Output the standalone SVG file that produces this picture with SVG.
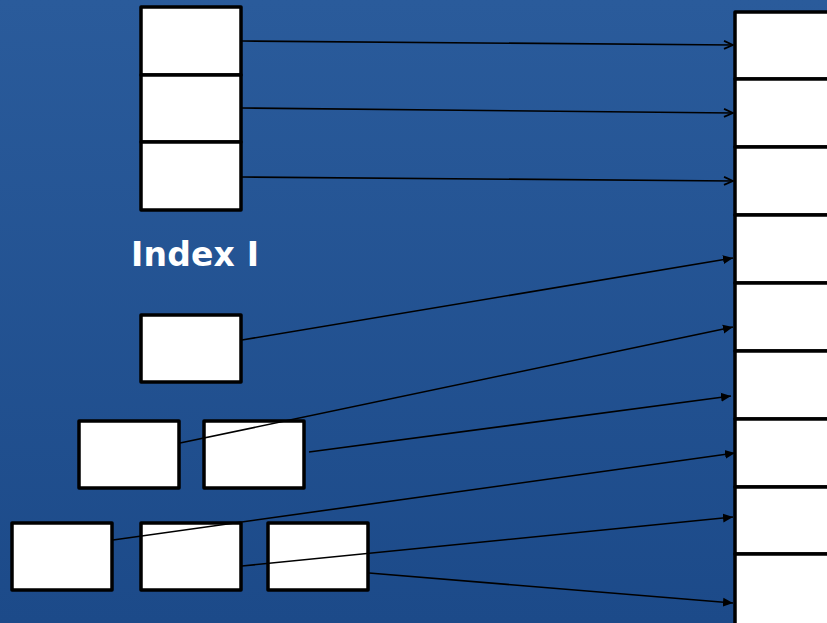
<svg xmlns="http://www.w3.org/2000/svg" width="827" height="623" viewBox="0 0 827 623">
<defs>
<linearGradient id="bg" x1="0" y1="0" x2="0" y2="1">
<stop offset="0" stop-color="#2a5b9b"/>
<stop offset="1" stop-color="#1c4a89"/>
</linearGradient>
<marker id="open" markerWidth="12" markerHeight="10" refX="10" refY="5" orient="auto" markerUnits="userSpaceOnUse">
<path d="M1,1 L10,5 L1,9" fill="none" stroke="#000" stroke-width="1.8"/>
</marker>
<marker id="tri" markerWidth="12" markerHeight="10" refX="10" refY="5" orient="auto" markerUnits="userSpaceOnUse">
<path d="M0,0.5 L10,5 L0,9.5 Z" fill="#000"/>
</marker>
</defs>
<style>
.box{fill:#fff;stroke:#000;stroke-width:3.5;stroke-linejoin:round}
.ln{stroke:#000;stroke-width:1.6;fill:none}
.o{marker-end:url(#open)}
.t{marker-end:url(#tri)}
.lbl{font-family:"DejaVu Sans",Verdana,sans-serif;font-weight:bold;font-size:33px;fill:#fff}
</style>
<rect width="827" height="623" fill="url(#bg)"/>
<g id="table">
<rect class="box" x="735" y="12" width="100" height="67"/>
<rect class="box" x="735" y="79" width="100" height="68"/>
<rect class="box" x="735" y="147" width="100" height="68"/>
<rect class="box" x="735" y="215" width="100" height="68"/>
<rect class="box" x="735" y="283" width="100" height="68"/>
<rect class="box" x="735" y="351" width="100" height="68"/>
<rect class="box" x="735" y="419" width="100" height="68"/>
<rect class="box" x="735" y="487" width="100" height="67"/>
<rect class="box" x="735" y="554" width="100" height="72"/>
</g>
<g id="stack">
<rect class="box" x="141" y="7" width="100" height="68"/>
<rect class="box" x="141" y="75" width="100" height="67"/>
<rect class="box" x="141" y="142" width="100" height="68"/>
</g>
<g id="label"><text class="lbl" x="131" y="266" textLength="128" lengthAdjust="spacing">Index I</text></g>
<g id="n1"><rect class="box" x="141" y="315" width="100" height="67"/></g>
<g id="n2a"><rect class="box" x="79" y="421" width="100" height="67"/></g>
<g id="n2b"><rect class="box" x="204" y="421" width="100" height="67"/></g>
<g id="n3a"><rect class="box" x="12" y="523" width="100" height="67"/></g>
<g id="n3b"><rect class="box" x="141" y="523" width="100" height="67"/></g>
<g id="n3c"><rect class="box" x="268" y="523" width="100" height="67"/></g>
<g id="connectors">
<line class="ln o" x1="242" y1="41" x2="733" y2="45"/>
<line class="ln o" x1="242" y1="108" x2="733" y2="113"/>
<line class="ln o" x1="242" y1="177" x2="733" y2="181"/>
<line class="ln t" x1="242" y1="340" x2="733" y2="258"/>
<line class="ln t" x1="180" y1="443" x2="733" y2="327"/>
<line class="ln t" x1="309" y1="452" x2="731" y2="396"/>
<line class="ln t" x1="113" y1="540" x2="735" y2="453"/>
<line class="ln t" x1="242" y1="566" x2="733" y2="517"/>
<line class="ln t" x1="369" y1="573" x2="733" y2="603"/>
</g>
</svg>
